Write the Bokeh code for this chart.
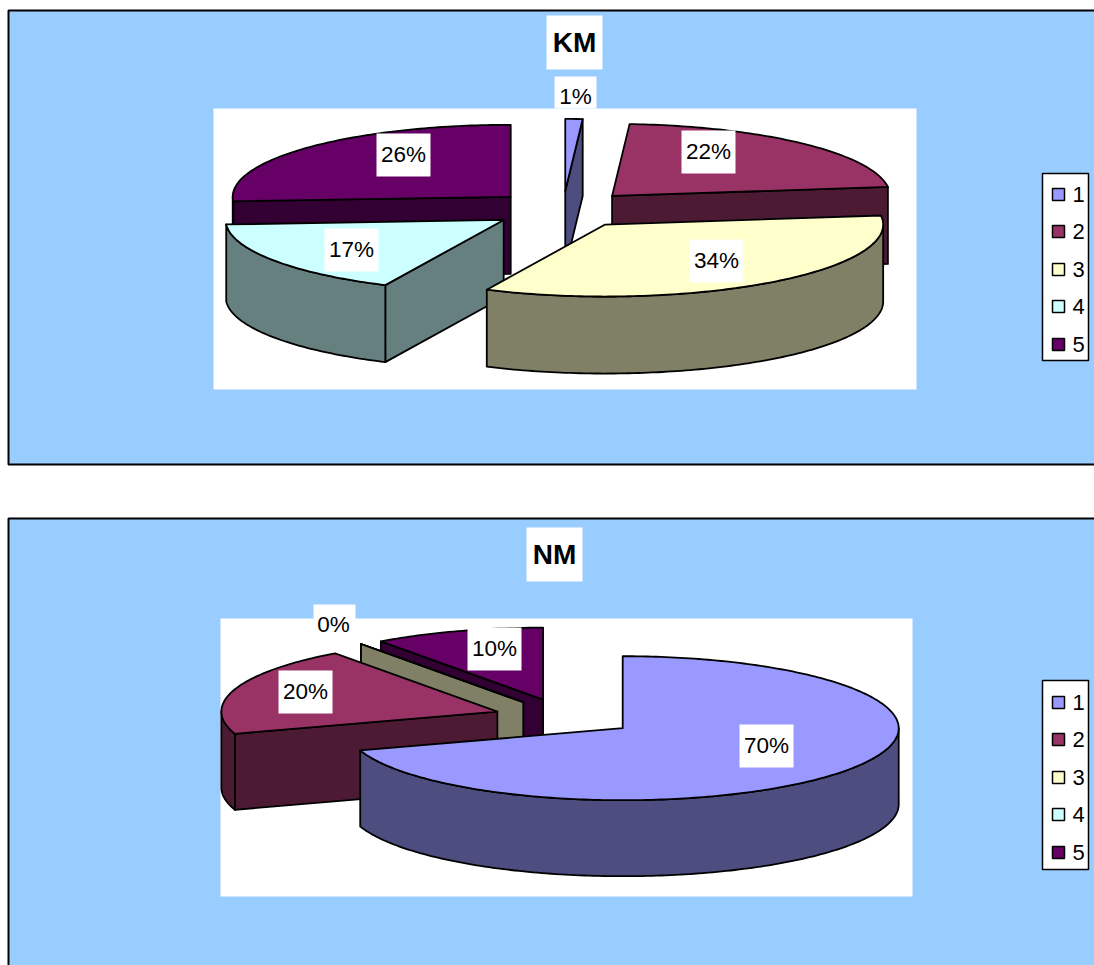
import math

from bokeh.core.properties import value
from bokeh.embed import file_html
from bokeh.models import Range1d
from bokeh.plotting import figure
from bokeh.resources import INLINE

# Chart data
km_title = "KM"
km_shares = [1, 22, 34, 17, 26]
nm_title = "NM"
nm_shares = [70, 20, 0, 0, 10]
legend_labels = ["1", "2", "3", "4", "5"]

# Slice styling, in legend order
TOP_COLORS = ["#9999FF", "#993366", "#FFFFCC", "#CCFFFF", "#660066"]
SIDE_COLORS = ["#4D4D80", "#4D1A33", "#808066", "#668080", "#330033"]
PANEL_COLOR = "#99CCFF"
FONT = value("Liberation Sans")

# Pie projection
RY = 72
EXPLODE = 0.258

# Layout of each chart panel
km_layout = dict(
    panel=(8, 10, 1110, 464),
    plot=(213, 108, 916, 389),
    center=(562.5, 209),
    rx=278, depth=77,
    title_box=(546, 15, 602, 69),
    labels={0: (575, 96), 1: (708, 151), 2: (716, 260), 3: (351, 249), 4: (403, 154)},
    boxes={0: (554, 76, 596, 108), 1: (681, 130, 735, 173), 2: (689, 239, 743, 282),
           3: (324, 228, 378, 271), 4: (376, 133, 430, 176)},
    legend=(1042, 173, 1088, 360),
    legend_y=[194, 231, 269, 306, 344],
)
nm_layout = dict(
    panel=(8, 518, 1110, 985),
    plot=(220, 618, 912, 896),
    center=(564.6, 716.8),
    rx=276, depth=76,
    title_box=(526, 527, 582, 581),
    labels={0: (766, 745), 1: (305, 691), 2: (333, 624), 4: (494, 648)},
    boxes={0: (739, 724, 793, 767), 1: (278, 670, 332, 713), 2: (313, 604, 355, 636),
           4: (467, 627, 521, 670)},
    legend=(1042, 680, 1088, 869),
    legend_y=[702, 739, 777, 814, 852],
)

p = figure(width=1094, height=965, output_backend="svg", toolbar_location=None,
           x_range=Range1d(0, 1094), y_range=Range1d(965, 0),
           x_axis_location=None, y_axis_location=None, min_border=0,
           outline_line_color=None, background_fill_color="white",
           border_fill_color="white")
p.grid.visible = False


def face(xs, ys, color):
    p.patch(xs, ys, fill_color=color, line_color="black", line_width=1.8,
            line_join="round")


def rim(apex, deg, rx):
    t = math.radians(deg)
    return apex[0] + rx * math.sin(t), apex[1] - RY * math.cos(t)


def draw_slice(i, apex, start, end, rx, depth):
    side = SIDE_COLORS[i]
    # Radial cut faces that turn towards the viewer
    for deg, visible in ((start, math.sin(math.radians(start)) < -1e-9),
                         (end, math.sin(math.radians(end)) > 1e-9)):
        if visible:
            x, y = rim(apex, deg, rx)
            face([apex[0], x, x, apex[0]], [apex[1], y, y + depth, apex[1] + depth], side)
    # Outer wall, only along the front half of the ellipse
    lo, hi = max(start, 90), min(end, 270)
    if hi > lo:
        steps = max(2, int(hi - lo))
        pts = [rim(apex, lo + (hi - lo) * k / steps, rx) for k in range(steps + 1)]
        xs = [q[0] for q in pts]
        ys = [q[1] for q in pts]
        face(xs + xs[::-1], ys + [v + depth for v in ys[::-1]], side)
    # Top surface
    steps = max(1, int(end - start))
    pts = [rim(apex, start + (end - start) * k / steps, rx) for k in range(steps + 1)]
    face([apex[0]] + [q[0] for q in pts], [apex[1]] + [q[1] for q in pts], TOP_COLORS[i])


def box(bounds, color, line=None, width=2):
    x0, y0, x1, y1 = bounds
    p.quad(left=[x0], right=[x1], top=[y0], bottom=[y1], fill_color=color,
           line_color=line, line_width=width)


def label(x, y, text, size, style="normal", align="center"):
    p.text([x], [y], text=[text], text_font=FONT, text_font_size=size,
           text_font_style=style, text_align=align, text_baseline="middle",
           text_color="black")


def draw_chart(title, shares, layout):
    box(layout["panel"], PANEL_COLOR, "black")
    box(layout["plot"], "white")

    # Cumulative angles, clockwise from twelve o'clock
    total = sum(shares)
    spans, run = [], 0.0
    for s in shares:
        spans.append((run, run + 360.0 * s / total))
        run += 360.0 * s / total

    # Paint slices from the back of the pie to the front
    mids = [math.radians((a + b) / 2) for a, b in spans]
    order = sorted(range(len(shares)), key=lambda i: (-round(math.cos(mids[i]), 6), -i))
    cx, cy = layout["center"]
    rx = layout["rx"]
    for i in order:
        apex = (cx + EXPLODE * rx * math.sin(mids[i]), cy - EXPLODE * RY * math.cos(mids[i]))
        draw_slice(i, apex, *spans[i], rx, layout["depth"])

    # Percentage labels sit on white boxes above the slices
    for b in layout["boxes"].values():
        box(b, "white")
    for i, (x, y) in layout["labels"].items():
        label(x, y, f"{shares[i]}%", "22.5px")

    b = layout["title_box"]
    box(b, "white")
    label((b[0] + b[2]) / 2, (b[1] + b[3]) / 2, title, "28px", "bold")

    # Legend
    box(layout["legend"], "white", "black", 1.5)
    x0 = layout["legend"][0]
    for i, (name, y) in enumerate(zip(legend_labels, layout["legend_y"])):
        box((x0 + 10, y - 6, x0 + 22, y + 6), TOP_COLORS[i], "black", 1.5)
        label(x0 + 30, y, name, "22px", align="left")


draw_chart(km_title, km_shares, km_layout)
draw_chart(nm_title, nm_shares, nm_layout)

open("out.html", "w").write(file_html(p, INLINE))
